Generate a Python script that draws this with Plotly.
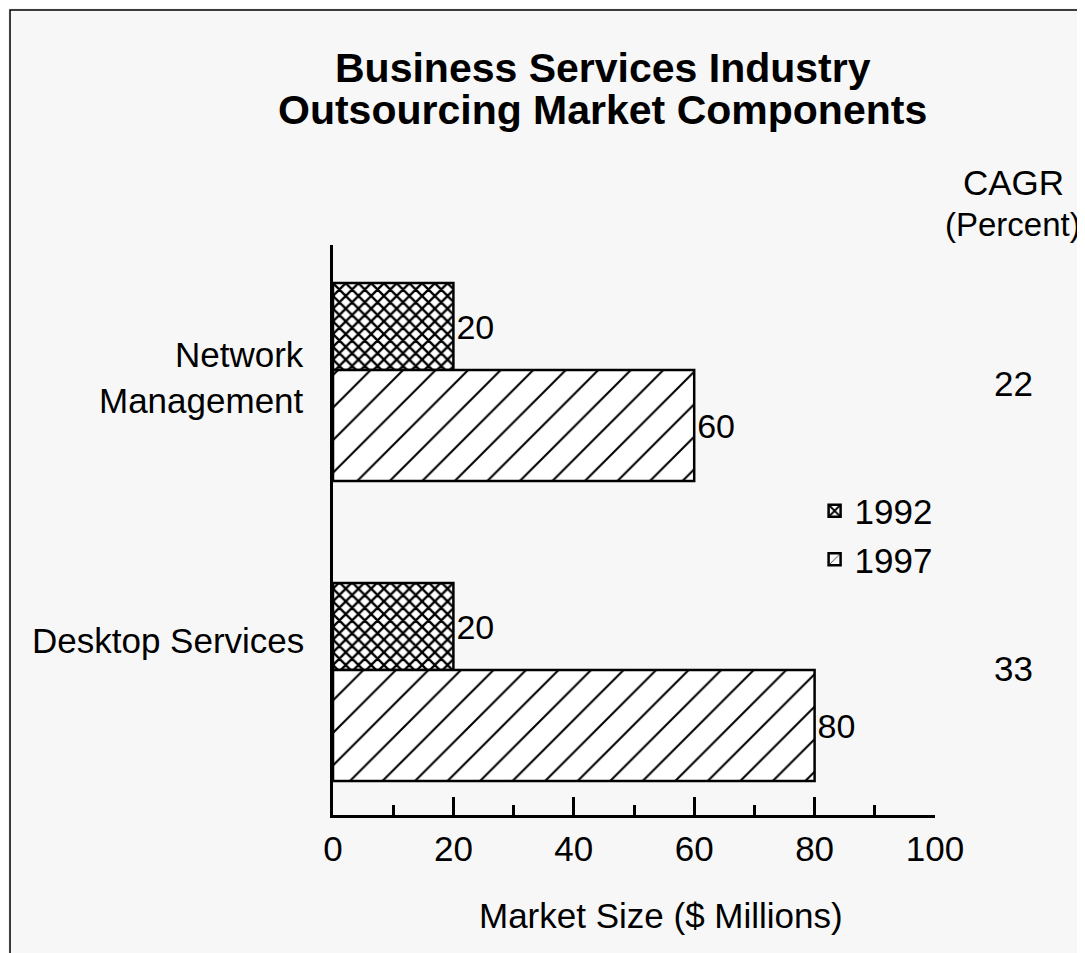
"""Business services outsourcing market components — patterned horizontal bars."""

import plotly.graph_objects as go

categories = ["Desktop Services", "Network<br>Management"]
years = ["1992", "1997"]
size_1992 = [20, 20]
size_1997 = [80, 60]
cagr = [33, 22]

FONT = "Liberation Sans, Arial, Helvetica, sans-serif"
BG = "#f7f7f7"

pos = list(range(len(categories)))


def txt(size):
    return dict(size=size, family=FONT, color="black")


fig = go.Figure()
fig.add_trace(go.Bar(
    y=pos, x=size_1992, name=years[0], orientation="h",
    offset=0.0, width=0.29,
    marker=dict(color="white", line=dict(color="black", width=2.5),
                pattern=dict(shape="x", fgcolor="black", bgcolor="white", fgopacity=1,
                             size=9, solidity=0.45)),
    text=size_1992, textposition="outside", cliponaxis=False,
    textfont=txt(34),
))
fig.add_trace(go.Bar(
    y=pos, x=size_1997, name=years[1], orientation="h",
    offset=-0.37, width=0.37,
    marker=dict(color="white", line=dict(color="black", width=2.5),
                pattern=dict(shape="/", fgcolor="black", bgcolor="white", fgopacity=1,
                             size=23, solidity=0.09)),
    text=size_1997, textposition="outside", cliponaxis=False,
    textfont=txt(34),
))

ann = []
# title, two lines
ann.append(dict(text="<b>Business Services Industry</b>", x=0.4485, y=1.3105, xref="paper", yref="paper",
                xanchor="center", yanchor="middle", showarrow=False, font=txt(41)))
ann.append(dict(text="<b>Outsourcing Market Components</b>", x=0.4485, y=1.2368, xref="paper", yref="paper",
                xanchor="center", yanchor="middle", showarrow=False, font=txt(41)))
# CAGR column
ann.append(dict(text="CAGR", x=1.1296, y=1.1088, xref="paper", yref="paper",
                xanchor="center", yanchor="middle", showarrow=False, font=txt(35)))
ann.append(dict(text="(Percent)", x=1.13, y=1.0368, xref="paper", yref="paper",
                xanchor="center", yanchor="middle", showarrow=False, font=txt(33)))
for i, v in zip(pos, cagr):
    ann.append(dict(text=str(v), x=1.1296, y=i, xref="paper", yref="y", yshift=-13 if i else 2,
                    xanchor="center", yanchor="middle", showarrow=False, font=txt(35)))
# category labels
for i, c in zip(pos, categories):
    ann.append(dict(text=c, x=-0.045, y=i, xref="paper", yref="y", xanchor="right", yanchor="middle",
                    align="right", yshift=30 if i == 0 else -7, showarrow=False, font=txt(35)))
# x axis title
ann.append(dict(text="Market Size ($ Millions)", x=0.545, y=-0.177, xref="paper", yref="paper",
                xanchor="center", yanchor="middle", showarrow=False, font=txt(35)))

# the page body adds 8px, so the figure is 8px smaller and margins are shifted
fig.update_layout(
    width=1077, height=945,
    margin=dict(l=325, r=150, t=237, b=138),
    paper_bgcolor=BG, plot_bgcolor=BG,
    barmode="overlay",
    font=dict(family=FONT, size=35, color="black"),
    annotations=ann,
    showlegend=True,
    legend=dict(x=0.80, y=0.585, xanchor="left", yanchor="top", bgcolor="rgba(0,0,0,0)",
                font=txt(35)),
    xaxis=dict(range=[0, 100], tickvals=[0, 20, 40, 60, 80, 100], ticks="inside", ticklen=18,
               tickwidth=2.5, tickcolor="black", showline=True, linewidth=2.5, linecolor="black",
               showgrid=False, zeroline=False, ticklabelstandoff=1,
               minor=dict(tickvals=[10, 30, 50, 70, 90], ticks="inside", ticklen=10,
                          tickwidth=2.5, tickcolor="black", showgrid=False),
               tickfont=txt(35)),
    yaxis=dict(range=[-0.483, 1.417], showline=True, linewidth=2.5, linecolor="black",
               showgrid=False, zeroline=False, showticklabels=False, ticks=""),
    shapes=[dict(type="rect", xref="paper", yref="paper", x0=-0.5365, x1=1.27, y0=-0.26, y1=1.4123,
                 line=dict(color="black", width=1.5), fillcolor="rgba(0,0,0,0)", layer="below")],
)

fig.write_html("out.html")
